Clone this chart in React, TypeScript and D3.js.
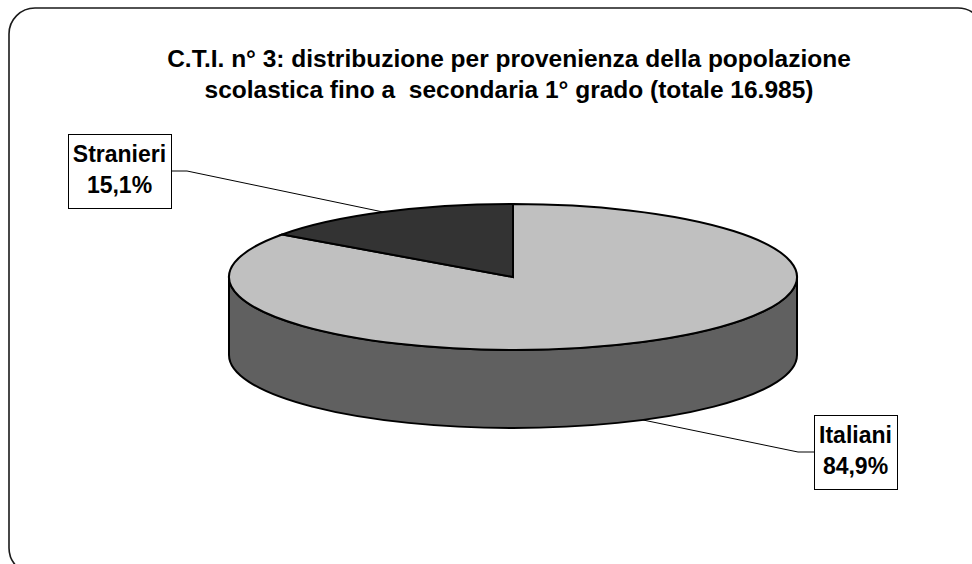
import React, { useEffect, useRef } from "react";
import * as d3 from "d3";

const categories = ["Italiani", "Stranieri"];
const percentages = [84.9, 15.1];
const percentLabels = ["84,9%", "15,1%"];
const topColors = ["#C0C0C0", "#333333"];
const sideColors = ["#606060", "#1A1A1A"];
const titleLines = [
  "C.T.I. n° 3: distribuzione per provenienza della popolazione",
  "scolastica fino a  secondaria 1° grado (totale 16.985)",
];

const W = 972;
const H = 564;
const FONT = "'Liberation Sans', Arial, Helvetica, sans-serif";

export default function App() {
  const ref = useRef<SVGSVGElement | null>(null);

  useEffect(() => {
    const svg = d3.select(ref.current);
    svg.selectAll("*").remove();

    // outer rounded border
    svg
      .append("rect")
      .attr("x", 9)
      .attr("y", 8)
      .attr("width", 975)
      .attr("height", 566)
      .attr("rx", 26)
      .attr("ry", 26)
      .attr("fill", "#fff")
      .attr("stroke", "#1a1a1a")
      .attr("stroke-width", 1.6);

    // title
    const title = svg
      .append("text")
      .attr("font-family", FONT)
      .attr("font-weight", "bold")
      .attr("font-size", 24.5)
      .attr("text-anchor", "middle")
      .attr("fill", "#000")
      .style("white-space", "pre");
    titleLines.forEach((t, i) => {
      title
        .append("tspan")
        .attr("x", 509)
        .attr("y", 67 + i * 31)
        .style("white-space", "pre")
        .text(t);
    });

    // pie geometry
    const cx = 513;
    const cy = 277;
    const rx = 284;
    const ry = 73;
    const depth = 78;

    const data = categories.map((c, i) => ({ c, v: percentages[i], i }));
    const pie = d3
      .pie<any>()
      .sort(null)
      .value((d: any) => d.v)
      .startAngle(0)
      .endAngle(2 * Math.PI);
    const arcs = pie(data);

    const px = (a: number) => cx + rx * Math.sin(a);
    const py = (a: number) => cy - ry * Math.cos(a);

    // label layout
    const labelBoxes: Record<string, { x: number; y: number; side: "left" | "right" }> = {
      Stranieri: { x: 68, y: 134, side: "left" },
      Italiani: { x: 814, y: 415, side: "right" },
    };
    const boxH = 74;

    const leaders = svg.append("g");
    const boxesG = svg.append("g");

    arcs.forEach((a: any) => {
      const cat = a.data.c;
      const mid = (a.startAngle + a.endAngle) / 2;
      const ax = px(mid);
      let ay = py(mid);
      if (Math.cos(mid) < 0) ay += depth;
      const box = labelBoxes[cat];
      const g = boxesG.append("g");
      const t1 = g
        .append("text")
        .attr("font-family", FONT)
        .attr("font-weight", "bold")
        .attr("font-size", 23)
        .attr("text-anchor", "middle")
        .text(cat);
      const t2 = g
        .append("text")
        .attr("font-family", FONT)
        .attr("font-weight", "bold")
        .attr("font-size", 23)
        .attr("text-anchor", "middle")
        .text(percentLabels[a.data.i]);
      const w1 = (t1.node() as SVGTextElement).getComputedTextLength();
      const w2 = (t2.node() as SVGTextElement).getComputedTextLength();
      const bw = Math.round(Math.max(w1, w2) + 10);
      const bx = box.x;
      const by = box.y;
      g.insert("rect", "text")
        .attr("x", bx + 0.5)
        .attr("y", by + 0.5)
        .attr("width", bw)
        .attr("height", boxH)
        .attr("fill", "#fff")
        .attr("stroke", "#000")
        .attr("stroke-width", 1);
      t1.attr("x", bx + bw / 2).attr("y", by + 28);
      t2.attr("x", bx + bw / 2).attr("y", by + 59);

      const midY = by + boxH / 2;
      let pts: [number, number][];
      if (box.side === "left") {
        pts = [
          [bx + bw, midY],
          [bx + bw + 16, midY],
          [ax, ay],
        ];
      } else {
        pts = [
          [ax, ay],
          [bx - 16, midY],
          [bx, midY],
        ];
      }
      leaders
        .append("path")
        .attr("d", d3.line()(pts))
        .attr("fill", "none")
        .attr("stroke", "#000")
        .attr("stroke-width", 1);
    });

    const pieG = svg.append("g");

    // side walls (front half only)
    arcs.forEach((a: any) => {
      const s = Math.max(a.startAngle, Math.PI / 2);
      const e = Math.min(a.endAngle, (3 * Math.PI) / 2);
      if (e <= s) return;
      const large = e - s > Math.PI ? 1 : 0;
      const d =
        `M${px(s)},${py(s)}` +
        ` A${rx},${ry} 0 ${large} 1 ${px(e)},${py(e)}` +
        ` L${px(e)},${py(e) + depth}` +
        ` A${rx},${ry} 0 ${large} 0 ${px(s)},${py(s) + depth} Z`;
      pieG
        .append("path")
        .attr("d", d)
        .attr("fill", sideColors[a.data.i])
        .attr("stroke", "#000")
        .attr("stroke-width", 2)
        .attr("stroke-linejoin", "round");
    });

    // top faces
    arcs.forEach((a: any) => {
      const s = a.startAngle;
      const e = a.endAngle;
      const large = e - s > Math.PI ? 1 : 0;
      const d =
        `M${cx},${cy} L${px(s)},${py(s)}` +
        ` A${rx},${ry} 0 ${large} 1 ${px(e)},${py(e)} Z`;
      pieG
        .append("path")
        .attr("d", d)
        .attr("fill", topColors[a.data.i])
        .attr("stroke", "#000")
        .attr("stroke-width", 2)
        .attr("stroke-linejoin", "miter");
    });
  }, []);

  return (
    <svg
      ref={ref}
      width={W}
      height={H}
      viewBox={`0 0 ${W} ${H}`}
      style={{ position: "absolute", left: 0, top: 0, display: "block", background: "#fff" }}
    />
  );
}
